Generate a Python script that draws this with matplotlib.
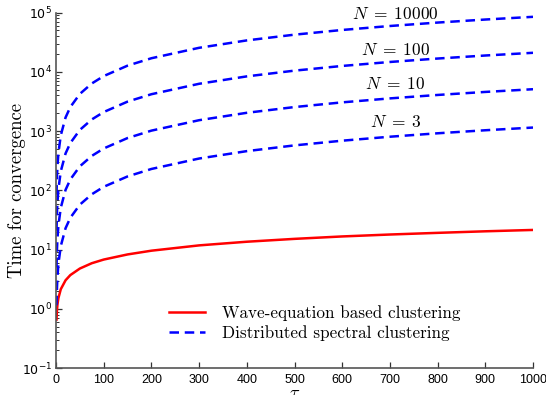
import matplotlib
matplotlib.use("Agg")
import matplotlib.pyplot as plt
from matplotlib.ticker import LogLocator, NullFormatter

plt.rcParams['mathtext.fontset'] = 'custom'
plt.rcParams['mathtext.rm'] = 'Liberation Sans'
plt.rcParams['mathtext.it'] = 'Liberation Sans:italic'

# values
tau = [1, 2, 3, 5, 10, 20, 30, 50, 75, 100, 150, 200, 300, 400, 500, 600, 700, 800, 900, 1000]
wave = [0.66, 0.96, 1.18, 1.52, 2.15, 3.04, 3.72, 4.8, 5.9, 6.8, 8.3, 9.6, 11.8, 13.6, 15.2, 16.7, 18.0, 19.2, 20.4, 21.5]
n3 = [1.15, 2.3, 3.45, 5.75, 11.5, 23, 34.5, 57.5, 86, 115, 172, 230, 345, 460, 575, 690, 805, 920, 1035, 1150]
n10 = [5.1, 10.2, 15.3, 25.5, 51, 102, 153, 255, 382, 510, 765, 1020, 1530, 2040, 2550, 3060, 3570, 4080, 4590, 5100]
n100 = [21, 42, 63, 105, 210, 420, 630, 1050, 1575, 2100, 3150, 4200, 6300, 8400, 10500, 12600, 14700, 16800, 18900, 21000]
n10000 = [85, 170, 255, 425, 850, 1700, 2550, 4250, 6375, 8500, 12750, 17000, 25500, 34000, 42500, 51000, 59500, 68000, 76500, 85000]
dist_curves = [n3, n10, n100, n10000]
n_labels = [r"$N\;=\;3$", r"$N\;=\;10$", r"$N\;=\;100$", r"$N\;=\;10000$"]
n_label_y = [1450, 6300, 23700, 95000]

fig = plt.figure(figsize=(5.46, 3.95), dpi=100)
ax = fig.add_axes([0.1026, 0.068, 0.8736, 0.9])

ax.plot(tau, wave, color='red', lw=1.8, label='Wave-equation based clustering')
for i, c in enumerate(dist_curves):
    ax.plot(tau, c, color='blue', lw=1.8, dashes=(3.8, 2.3),
            label='Distributed spectral clustering' if i == 0 else None)
    ax.text(712, n_label_y[i], n_labels[i], ha='center', va='center', fontsize=12.5,
            math_fontfamily='cm')

ax.set_yscale('log')
ax.set_xlim(0, 1000)
ax.set_ylim(0.1, 1e5)
ax.set_xticks(range(0, 1001, 100))
ax.set_yticks([10.0**k for k in range(-1, 6)])
ax.set_yticklabels([r'$\mathregular{10^{%d}}$' % k for k in range(-1, 6)])
ax.yaxis.set_minor_locator(LogLocator(base=10, subs=range(2, 10)))
ax.yaxis.set_minor_formatter(NullFormatter())

for lab in ax.get_xticklabels():
    lab.set_family('Liberation Sans')
ax.tick_params(axis='both', which='major', direction='in', length=4.5, width=0.9,
               labelsize=9, color='#333333', pad=4)
ax.tick_params(axis='y', which='minor', direction='in', length=2.5, width=0.7, color='#333333')
ax.tick_params(axis='y', which='major', labelsize=9, pad=3)

for s in ['top', 'right']:
    ax.spines[s].set_visible(False)
for s in ['left', 'bottom']:
    ax.spines[s].set_color('#555555')
    ax.spines[s].set_linewidth(1.2)

ax.set_ylabel('Time for convergence', family='cmr10', fontsize=13.5)
ax.yaxis.set_label_coords(-0.082, 0.5)
ax.yaxis.label.set_va('center')
ax.set_xlabel(r'$\tau$', fontsize=13, math_fontfamily='cm')
ax.xaxis.set_label_coords(0.5, -0.044)

leg = ax.legend(loc='lower left', bbox_to_anchor=(0.204, 0.034), frameon=False,
                handlelength=2.1, handletextpad=1.0, labelspacing=0.2,
                prop={'family': 'cmr10', 'size': 12.3})

fig.savefig('out.png', dpi=100)
